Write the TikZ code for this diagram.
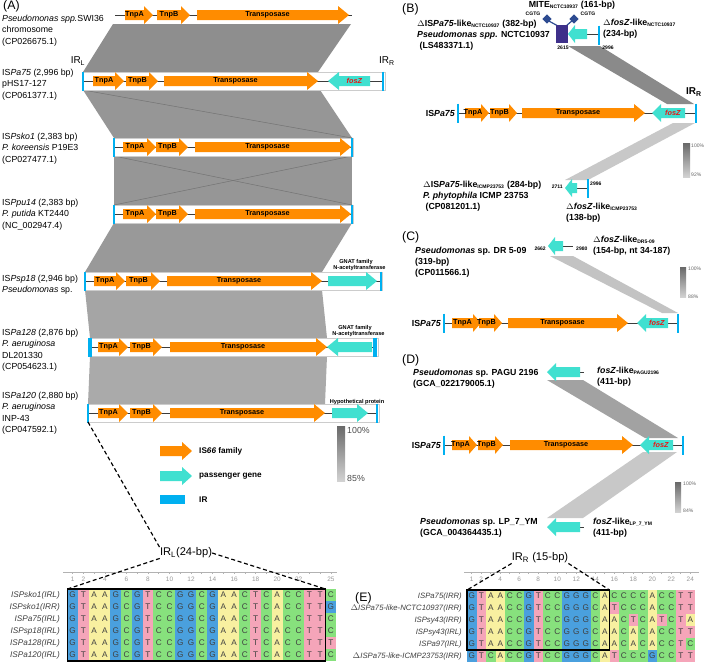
\documentclass[tikz,border=0pt]{standalone}
\usepackage{fontspec}
\setmainfont{Liberation Sans}
\usetikzlibrary{shapes.geometric}

\definecolor{orng}{RGB}{255,140,0}
\definecolor{turq}{RGB}{64,224,208}
\definecolor{irblue}{RGB}{0,176,240}
\definecolor{mitec}{RGB}{62,48,138}
\definecolor{diac}{RGB}{45,75,145}
\definecolor{trkc}{RGB}{60,60,60}
\definecolor{nucG}{RGB}{74,160,222}
\definecolor{nucT}{RGB}{245,165,185}
\definecolor{nucA}{RGB}{248,240,160}
\definecolor{nucC}{RGB}{135,225,125}
\definecolor{fosred}{RGB}{235,20,20}
\definecolor{bA1}{RGB}{142,142,142}
\definecolor{bA2}{RGB}{150,150,150}
\definecolor{bA3}{RGB}{150,150,150}
\definecolor{bA4}{RGB}{153,153,153}
\definecolor{bA5}{RGB}{165,165,165}
\definecolor{bA6}{RGB}{170,170,170}
\definecolor{bBu}{RGB}{138,138,138}
\definecolor{bBl}{RGB}{200,200,200}
\definecolor{bC}{RGB}{195,195,195}
\definecolor{bDu}{RGB}{162,162,162}
\definecolor{bDl}{RGB}{200,200,200}
\definecolor{gtop}{RGB}{105,105,105}
\definecolor{gbot}{RGB}{210,210,210}

% right-pointing gene: [head]{x1}{tip}{y}{colour}{label}
\newcommand{\gR}[6][9]{%
  \fill[#5] (#2,#4-5) -- (#3-#1,#4-5) -- (#3-#1,#4-9) -- (#3,#4) -- (#3-#1,#4+9) -- (#3-#1,#4+5) -- (#2,#4+5) -- cycle;
  \node[glab] at ({(#2+#3-#1)/2},#4) {#6};}
% left-pointing gene: [head]{tip}{tail}{y}{colour}{label}
\newcommand{\gL}[6][9]{%
  \fill[#5] (#3,#4-5) -- (#2+#1,#4-5) -- (#2+#1,#4-9) -- (#2,#4) -- (#2+#1,#4+9) -- (#2+#1,#4+5) -- (#3,#4+5) -- cycle;
  \node[glab] at ({(#2+#1+#3)/2},#4) {#6};}
\newcommand{\irbar}[3][0.75mm]{\draw[irblue,line width=#1] (#2,#3-9.5) -- (#2,#3+9.5);}
\newcommand{\sbs}[1]{\textsubscript{\fontsize{4.3}{5}\selectfont #1}}
\newcommand{\fosz}{\textcolor{fosred}{\textit{fosZ}}}

\begin{document}
\begin{tikzpicture}[x=0.3mm,y=-0.3mm,
  lab/.style={font=\fontsize{7.5}{9.7}\selectfont, anchor=north west, inner sep=0pt, align=left},
  blab/.style={font=\fontsize{7.5}{9.4}\selectfont\bfseries, anchor=north west, inner sep=0pt, align=left},
  glab/.style={font=\fontsize{6.2}{6.2}\selectfont\bfseries, inner sep=0pt},
  numlab/.style={font=\fontsize{4.3}{5}\selectfont\bfseries, inner sep=0pt},
  pan/.style={font=\fontsize{10.5}{12}\selectfont, anchor=north west, inner sep=0pt},
  trk/.style={draw=trkc, line width=0.3mm},
  rowbox/.style={draw=black!20, fill=white, line width=0.25mm},
  xline/.style={draw=black!55, line width=0.15mm},
  zoomdash/.style={draw=black, line width=0.35mm, dash pattern=on 1.2mm off 0.8mm},
  ntl/.style={font=\fontsize{7}{7}\selectfont, text=black!75, inner sep=0pt},
  seqname/.style={font=\fontsize{7}{7}\selectfont\itshape, text=black!75, anchor=east, inner sep=0pt},
  rul/.style={font=\fontsize{5.5}{6}\selectfont, text=black!40, inner sep=0pt},
  legt/.style={font=\fontsize{7}{8}\selectfont\bfseries, anchor=west, inner sep=0pt},
  pctA/.style={font=\fontsize{7.5}{8}\selectfont, anchor=west, inner sep=0pt, text=black!70},
  pctS/.style={font=\fontsize{4.3}{5}\selectfont, anchor=west, inner sep=0pt, text=black!60},
  gnat/.style={font=\fontsize{4.8}{5.8}\selectfont\bfseries, inner sep=0pt, align=center},
  irlab/.style={font=\fontsize{8.5}{9}\selectfont, inner sep=0pt},
]
\useasboundingbox (0,0) rectangle (704,664);
\fill[white] (0,0) rectangle (704,664);

%================= PANEL A =================
\node[pan] (pA) at (3,0) {(A)};
% bands
\fill[bA1] (113,24) -- (351,24) -- (318,72) -- (83,72) -- cycle;
\fill[bA2] (83,90) -- (320,90) -- (352,138) -- (114,138) -- cycle;
\draw[xline] (83,90) -- (352,138);
\fill[bA3] (114,156) rectangle (352,205);
\draw[xline] (114,156) -- (352,205);
\draw[xline] (352,156) -- (114,205);
\fill[bA4] (114,223) -- (352,223) -- (322,272) -- (85,272) -- cycle;
\fill[bA5] (85,290) -- (322,290) -- (327,338) -- (90,338) -- cycle;
\fill[bA6] (90,356) -- (327,356) -- (325,404) -- (88,404) -- cycle;

% row 1
\draw[trk] (115,15) -- (352,15);
\gR{125}{153}{15}{orng}{TnpA}
\gR{157}{190}{15}{orng}{TnpB}
\gR[11]{197}{349}{15}{orng}{Transposase}
% row 2
\draw[rowbox] (82,72) rectangle (385,90);
\draw[trk] (83,81) -- (383,81);
\gR{93}{124}{81}{orng}{TnpA}
\gR{126}{158}{81}{orng}{TnpB}
\gR[11]{164}{318}{81}{orng}{Transposase}
\gL[11]{328}{370}{81}{turq}{\fosz}
\irbar{83}{81}
\irbar{383}{81}
\node[irlab] (irLa) at (78,61) {IR\textsubscript{L}};
\node[irlab] (irRa) at (387,61) {IR\textsubscript{R}};
% row 3
\draw[rowbox] (113,138) rectangle (353,156);
\draw[trk] (114,147) -- (352,147);
\gR{123}{156}{147}{orng}{TnpA}
\gR{156}{188}{147}{orng}{TnpB}
\gR[11]{195}{351}{147}{orng}{Transposase}
\irbar{114}{147}
\irbar{352}{147}
% row 4
\draw[rowbox] (113,205) rectangle (353,223);
\draw[trk] (114,214) -- (352,214);
\gR{123}{156}{214}{orng}{TnpA}
\gR{156}{188}{214}{orng}{TnpB}
\gR[11]{195}{351}{214}{orng}{Transposase}
\irbar{114}{214}
\irbar{352}{214}
% row 5
\draw[rowbox] (85,272) rectangle (382,290);
\draw[trk] (85,281) -- (381,281);
\gR{94}{125}{281}{orng}{TnpA}
\gR{126}{160}{281}{orng}{TnpB}
\gR[11]{167}{322}{281}{orng}{Transposase}
\gR[11]{328}{377}{281}{turq}{}
\irbar{85}{281}
\irbar{381}{281}
\node[gnat] (gn1) at (356,265) {GNAT family\\\hspace*{6pt}N-acetyltransferase};
% row 6
\draw[rowbox] (89,338) rectangle (378,356);
\draw[trk] (90,347) -- (376,347);
\gR{98}{128}{347}{orng}{TnpA}
\gR{130}{162}{347}{orng}{TnpB}
\gR[11]{170}{327}{347}{orng}{Transposase}
\gL[11]{327}{372}{347}{turq}{}
\irbar[1.3mm]{90}{347}
\irbar[1.3mm]{375}{347}
\node[gnat] (gn2) at (355,331) {GNAT family\\\hspace*{6pt}N-acetyltransferase};
% row 7
\draw[rowbox] (87,404) rectangle (379,422);
\draw[trk] (88,413) -- (377,413);
\gR{98}{128}{413}{orng}{TnpA}
\gR{130}{162}{413}{orng}{TnpB}
\gR[11]{170}{325}{413}{orng}{Transposase}
\gR[11]{332}{368}{413}{turq}{}
\irbar{88}{413}
\irbar{377}{413}
\node[gnat] (hyp) at (357,402) {Hypothetical protein};

% left labels
\node[lab] (l1) at (2,15) {\textit{Pseudomonas spp.}SWI36\\chromosome\\(CP026675.1)};
\node[lab] (l2) at (2,69) {IS\textit{Pa75} (2,996 bp)\\pHS17-127\\(CP061377.1)};
\node[lab] (l3) at (2,133) {IS\textit{Psko1} (2,383 bp)\\\textit{P. koreensis} P19E3\\(CP027477.1)};
\node[lab] (l4) at (2,199) {IS\textit{Ppu14} (2,383 bp)\\\textit{P. putida} KT2440\\(NC\_002947.4)};
\node[lab] (l5) at (2,275) {IS\textit{Psp18} (2,946 bp)\\\textit{Pseudomonas} sp.};
\node[lab] (l6) at (2,329) {IS\textit{Pa128} (2,876 bp)\\\textit{P. aeruginosa}\\DL201330\\(CP054623.1)};
\node[lab] (l7) at (2,392) {IS\textit{Pa120} (2,880 bp)\\\textit{P. aeruginosa}\\INP-43\\(CP047592.1)};

% legend
\gR[10]{160}{192}{451}{orng}{}
\gR[10]{160}{192}{476}{turq}{}
\fill[irblue] (160,495) rectangle (185,504);
\node[legt] (lg1) at (199,451) {IS\textit{66} family};
\node[legt] (lg2) at (199,476) {passenger gene};
\node[legt] (lg3) at (199,500) {IR};
\shade[top color=gtop, bottom color=gbot] (337,426) rectangle (345,481);
\node[pctA] (pa1) at (347,430) {100\%};
\node[pctA] (pa2) at (347,478) {85\%};

%================= PANEL B =================
\node[pan] (pB) at (402,3) {(B)};
\fill[bBu] (568,46) -- (600,46) -- (694,104) -- (667,104) -- cycle;
\fill[bBl] (673,123) -- (695,123) -- (588,180) -- (565,180) -- cycle;
% MITE element
\draw[diac, line width=0.35mm] (558,26) -- (547,20);
\draw[diac, line width=0.35mm] (566,26) -- (573,20);
\node[diamond, fill=diac, inner sep=0pt, minimum size=8pt] (d1) at (547,19) {};
\node[diamond, fill=diac, inner sep=0pt, minimum size=8pt] (d2) at (574,19) {};
\fill[mitec] (556,25) rectangle (568,43);
\draw[trk] (585,34) -- (599,34);
\gL[7]{568}{587}{34}{turq}{}
\irbar{599}{35}
\node[numlab] (cg1) at (533,14) {CGTG};
\node[numlab] (cg2) at (588,14) {CGTG};
\node[numlab] (n2615) at (563,48) {2615};
\node[numlab] (n2996a) at (608,48) {2996};
\node[font=\fontsize{7.5}{9}\selectfont\bfseries, inner sep=0pt] (mite) at (572,5) {MITE\sbs{NCTC10937} (161-bp)};
\node[blab] (bl1) at (417,20) {$\Delta$IS\textit{Pa75}-like\sbs{NCTC10937} (382-bp)\\\textit{Pseudomonas spp.} NCTC10937\\\hspace*{2pt}(LS483371.1)};
\node[blab] (bl2) at (603,19) {$\Delta$\textit{fosZ}-like\sbs{NCTC10937}\\(234-bp)};
% ISPa75 row B
\draw[trk] (458,113) -- (696,113);
\gR[8]{465}{489}{113}{orng}{TnpA}
\gR[8]{490}{517}{113}{orng}{TnpB}
\gR[11]{522}{645}{113}{orng}{Transposase}
\gL[9]{652}{685}{113}{turq}{\fosz}
\irbar{458}{113}
\irbar{696}{113}
\node[font=\fontsize{7.5}{9}\selectfont\bfseries, anchor=east, inner sep=0pt] (isB) at (455,113) {IS\textit{Pa75}};
\node[font=\fontsize{8.5}{9}\selectfont\bfseries, inner sep=0pt] (irRb) at (694,92) {IR\textsubscript{R}};
% ICMP
\draw[trk] (575,188) -- (588,188);
\gL[7]{565}{577}{188}{turq}{}
\draw[irblue,line width=0.75mm] (588,179) -- (588,198);
\node[numlab, anchor=east] (n2711) at (563,187) {2711};
\node[numlab, anchor=west] (n2996b) at (590,184) {2996};
\node[blab] (bl3) at (423,181) {$\Delta$IS\textit{Pa75}-like\sbs{ICMP23753} (284-bp)\\\textit{P. phytophila} ICMP 23753\\\hspace*{2pt}(CP081201.1)};
\node[blab] (bl4) at (566,203) {$\Delta$\textit{fosZ}-like\sbs{ICMP23753}\\(138-bp)};
\shade[top color=gtop, bottom color=gbot] (683,143) rectangle (690,177);
\node[pctS] (pb1) at (691,146) {100\%};
\node[pctS] (pb2) at (691,175) {92\%};

%================= PANEL C =================
\node[pan] (pC) at (402,231) {(C)};
\fill[bC] (550,256) -- (573,256) -- (678,313) -- (662,313) -- cycle;
\draw[trk] (560,246) -- (573,246);
\gL[7]{548}{563}{246}{turq}{}
\node[numlab, anchor=east] (n2662) at (546,249) {2662};
\node[numlab, anchor=west] (n2980) at (576,249) {2980};
\node[blab] (cl1) at (593,236) {$\Delta$\textit{fosZ}-like\sbs{DR5-09}\\(154-bp, nt 34-187)};
\node[blab] (cl2) at (415,247) {\textit{Pseudomonas} sp. DR 5-09\\(319-bp)\\(CP011566.1)};
\shade[top color=gtop, bottom color=gbot] (680,267) rectangle (686,297);
\node[pctS] (pc1) at (688,269) {100\%};
\node[pctS] (pc2) at (688,297) {88\%};
\draw[trk] (444,323) -- (678,323);
\gR[8]{452}{481}{323}{orng}{TnpA}
\gR[8]{479}{502}{323}{orng}{TnpB}
\gR[11]{508}{628}{323}{orng}{Transposase}
\gL[9]{637}{668}{323}{turq}{\fosz}
\irbar{444}{323}
\irbar{678}{323}
\node[font=\fontsize{7.5}{9}\selectfont\bfseries, anchor=east, inner sep=0pt] (isC) at (441,323) {IS\textit{Pa75}};

%================= PANEL D =================
\node[pan] (pD) at (402,354) {(D)};
\fill[bDu] (547,380) -- (583,380) -- (678,438) -- (645,438) -- cycle;
\fill[bDl] (643,452) -- (677,452) -- (583,518) -- (547,518) -- cycle;
\draw[trk] (575,372) -- (584,372);
\gL[9]{547}{580}{372}{turq}{}
\draw[trk] (575,527) -- (584,527);
\gL[9]{547}{580}{527}{turq}{}
\node[blab] (dl1) at (413,369) {\textit{Pseudomonas} sp. PAGU 2196\\(GCA\_022179005.1)};
\node[blab] (dl2) at (597,367) {\textit{fosZ}-like\sbs{PAGU2196}\\(411-bp)};
\node[blab] (dl3) at (420,518) {\textit{Pseudomonas} sp. LP\_7\_YM\\(GCA\_004364435.1)};
\node[blab] (dl4) at (593,518) {\textit{fosZ}-like\sbs{LP\_7\_YM}\\(411-bp)};
\draw[trk] (444,445) -- (683,445);
\gR[8]{452}{477}{445}{orng}{TnpA}
\gR[8]{478}{503}{445}{orng}{TnpB}
\gR[11]{510}{633}{445}{orng}{Transposase}
\gL[9]{640}{673}{445}{turq}{\fosz}
\irbar{444}{445}
\irbar{683}{445}
\node[font=\fontsize{7.5}{9}\selectfont\bfseries, anchor=east, inner sep=0pt] (isD) at (441,445) {IS\textit{Pa75}};
\shade[top color=gtop, bottom color=gbot] (675,482) rectangle (681,512);
\node[pctS] (pd1) at (683,484) {100\%};
\node[pctS] (pd2) at (683,511) {84\%};

%================= ALIGNMENT LEFT =================
\draw[black!30, line width=0.2mm] (63,572) -- (337,572);
\foreach \c in {1,...,25} {\draw[black!30, line width=0.2mm] ({67.3+(\c-0.5)*10.76},572) -- ++(0,2);}
\foreach \n in {1,2,4,6,8,10,12,14,16,18,20,22,25} {\node[rul] at ({67.3+(\n-0.5)*10.76},579) {\n};}
\foreach \seq [count=\r] in {
 {G,T,A,A,G,C,G,T,C,C,G,G,C,G,A,A,C,T,C,A,C,C,T,T,C},
 {G,T,A,A,G,C,G,T,C,C,G,G,C,G,A,A,C,T,C,A,C,C,T,T,G},
 {G,T,A,A,G,C,G,T,C,C,G,G,C,G,A,A,C,T,C,A,C,C,T,T,C},
 {G,T,A,A,G,C,G,T,C,C,G,G,C,G,A,A,C,T,C,A,C,C,T,T,C},
 {G,T,A,A,G,C,G,T,C,C,G,G,C,G,A,A,C,T,C,A,C,C,T,T,T},
 {G,T,A,A,G,C,G,T,C,C,G,G,C,G,A,A,C,T,C,A,C,C,T,T,C}} {
  \foreach \b [count=\c] in \seq {
    \colorlet{cellc}{nuc\b}
    \fill[cellc] ({67.3+(\c-1)*10.76},{589+(\r-1)*12}) rectangle ++(10.76,12);
    \node[ntl] at ({67.3+(\c-0.5)*10.76},{589+(\r-0.5)*12}) {\b};
  }
}
\foreach \nm [count=\r] in {ISPsko1(IRL),ISPsko1(IRR),ISPa75(IRL),ISPsp18(IRL),ISPa128(IRL),ISPa120(IRL)}
  {\node[seqname] at (60,{589+(\r-0.5)*12}) {\nm};}
\draw[black, line width=0.45mm] (67.3,589) rectangle (325.5,661);
\coordinate (bLtl) at (67.3,589);
\coordinate (bLtr) at (325.5,589);
\coordinate (ir7) at (88,422);
\node[irlab, font=\fontsize{9.5}{10}\selectfont] (irL) at (186,553) {IR\textsubscript{L}(24-bp)};
\draw[zoomdash] (ir7) -- (irL.north west);
\draw[zoomdash] (irL.south west) -- (bLtl);
\draw[zoomdash] (irL.east) -- (bLtr);

%================= ALIGNMENT RIGHT =================
\node[pan] (pE) at (355,592) {(E)};
\draw[black!30, line width=0.2mm] (464,572) -- (699,572);
\foreach \c in {1,...,24} {\draw[black!30, line width=0.2mm] ({467+(\c-0.5)*9.5},572) -- ++(0,2);}
\foreach \n in {1,2,4,6,8,10,12,14,16,18,20,22,24} {\node[rul] at ({467+(\n-0.5)*9.5},579) {\n};}
\foreach \seq [count=\r] in {
 {G,T,A,A,C,C,G,T,C,C,G,G,G,C,A,C,C,C,C,A,C,C,T,T},
 {G,T,A,A,C,C,G,T,C,C,G,G,G,C,A,T,C,C,C,A,C,C,T,T},
 {G,T,A,A,C,C,G,T,C,C,G,G,G,C,A,A,C,T,C,A,T,C,T,A},
 {G,T,A,A,C,C,G,T,C,C,G,G,G,C,A,A,C,A,C,A,C,C,T,T},
 {G,T,A,A,C,C,G,T,C,C,G,G,G,C,A,A,C,A,C,A,C,C,T,C},
 {G,T,C,A,C,C,G,T,C,C,G,G,G,C,A,T,C,C,C,G,C,C,T,T}} {
  \foreach \b [count=\c] in \seq {
    \colorlet{cellc}{nuc\b}
    \fill[cellc] ({467+(\c-1)*9.5},{590+(\r-1)*12}) rectangle ++(9.5,12);
    \node[ntl] at ({467+(\c-0.5)*9.5},{590+(\r-0.5)*12}) {\b};
  }
}
\foreach \nm [count=\r] in {ISPa75(IRR),$\Delta$ISPa75-like-NCTC10937(IRR),ISPsy43(IRR),ISPsy43(IRL),ISPa97(IRL),$\Delta$ISPa75-like-ICMP23753(IRR)}
  {\node[seqname, font=\fontsize{6.6}{7}\selectfont\itshape] at (462,{590+(\r-0.5)*12}) {\nm};}
\draw[black, line width=0.45mm] (467,590) rectangle (609.5,650);
\coordinate (bRtl) at (467,590);
\coordinate (bRtr) at (609.5,590);
\node[irlab, font=\fontsize{9.5}{10}\selectfont] (irR) at (540,558) {IR\textsubscript{R} (15-bp)};
\draw[zoomdash] (irR.south west) -- (bRtl);
\draw[zoomdash] (irR.south east) -- (bRtr);
\end{tikzpicture}
\end{document}
